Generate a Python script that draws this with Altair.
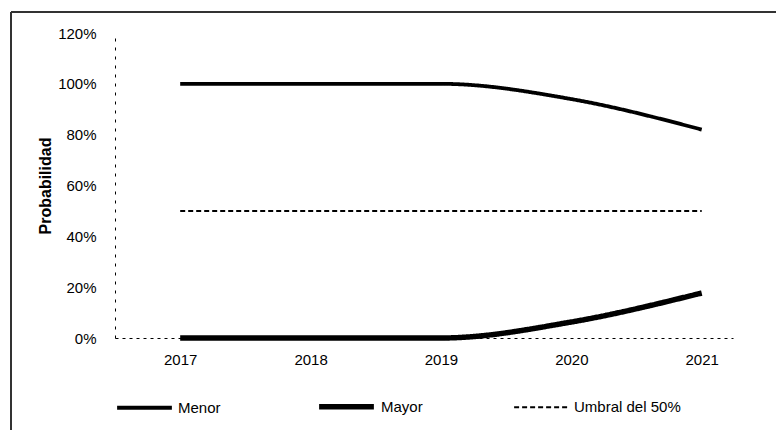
import altair as alt
import pandas as pd

years = [2017, 2018, 2019, 2020, 2021]
menor = [1.00, 1.00, 1.00, 0.94, 0.82]
mayor = [0.00, 0.00, 0.00, 0.063, 0.177]
umbral = [0.50, 0.50, 0.50, 0.50, 0.50]
series_names = ["Menor", "Mayor", "Umbral del 50%"]

rows = []
for name, vals in zip(series_names, [menor, mayor, umbral]):
    for y, v in zip(years, vals):
        rows.append({"anio": y, "prob": v, "serie": name})
df = pd.DataFrame(rows)

FONT = "Liberation Sans"

leg = dict(title=None, orient="none", direction="horizontal",
           legendX=0, legendY=343, symbolType="stroke",
           symbolSize=3000, symbolStrokeColor="black",
           labelOffset=4, columnPadding=87,
           labelFontSize=15, labelFont=FONT, labelColor="black")

lines = alt.Chart(df).mark_line(interpolate="monotone", color="black", clip=False).encode(
    x=alt.X("anio:Q", scale=alt.Scale(domain=[2016.5, 2021.24], nice=False, zero=False),
            axis=alt.Axis(values=years, format="d", title=None, grid=False, ticks=False,
                          labelPadding=14, domainDash=[3, 4], domainColor="black",
                          domainWidth=1)),
    y=alt.Y("prob:Q", scale=alt.Scale(domain=[0, 1.2], nice=False),
            axis=alt.Axis(values=[0, 0.2, 0.4, 0.6, 0.8, 1.0, 1.2], format=".0%",
                          title="Probabilidad", grid=False, ticks=False, labelPadding=19,
                          domainDash=[3, 6], domainColor="black", domainWidth=1,
                          titleFontWeight="bold", titleFontSize=16, titlePadding=4)),
    strokeWidth=alt.StrokeWidth("serie:N",
                                scale=alt.Scale(type="ordinal", domain=series_names, range=[3.8, 5.5, 2]),
                                legend=alt.Legend(**leg)),
    strokeDash=alt.StrokeDash("serie:N", scale=alt.Scale(domain=series_names,
                                                         range=[[1, 0], [1, 0], [5, 3]]),
                              legend=alt.Legend(**leg)),
)

frame_left = alt.Chart(df).mark_rule(color="#333333", strokeWidth=1.5, clip=False).encode(
    x=alt.value(-104), y=alt.value(-21), y2=alt.value(420))
frame_top = alt.Chart(df).mark_rule(color="#333333", strokeWidth=1.5, clip=False).encode(
    x=alt.value(-104), x2=alt.value(661), y=alt.value(-21))

chart = alt.layer(frame_left, frame_top, lines).properties(
    width=618, height=305,
    title=alt.TitleParams("2017-2021", fontSize=24, fontWeight="bold", font=FONT,
                          anchor="middle", dx=-22, offset=22, baseline="alphabetic"),
    autosize=alt.AutoSizeParams(type="none"),
    padding={"left": 107, "top": 25, "right": 43, "bottom": 92},
).configure_view(stroke=None).configure_axis(
    labelFont=FONT, labelFontSize=15, labelColor="black", titleFont=FONT, titleColor="black"
)

chart.save("out.html", embed_options={"renderer": "svg", "actions": False})
